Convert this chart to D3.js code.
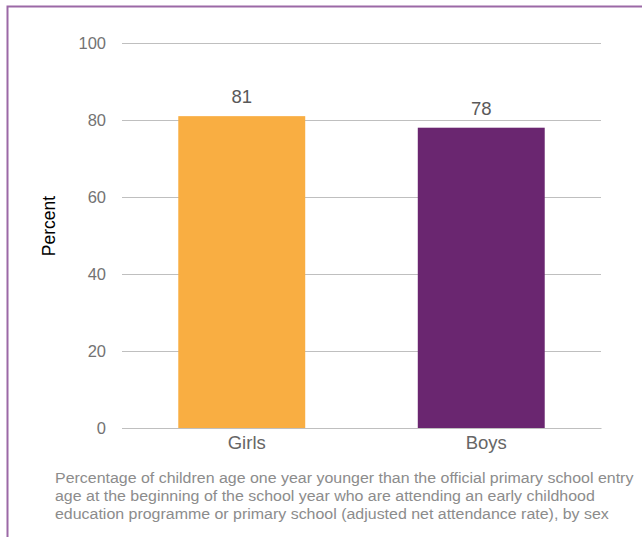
<!DOCTYPE html>
<html><head><meta charset="utf-8">
<script src="https://cdn.jsdelivr.net/npm/d3@7"></script>
<style>body{margin:0;background:#fff;}svg{display:block;font-family:Arial,"Liberation Sans",sans-serif;}</style>
</head><body>
<svg id="c" width="642" height="537"></svg>
<script>
const categories = ["Girls", "Boys"];
const values = [81, 78];
const colors = ["#F9AE42", "#6A2670"];
const yTicks = [0, 20, 40, 60, 80, 100];
const yLabel = "Percent";
const caption = [
  "Percentage of children age one year younger than the official primary school entry",
  "age at the beginning of the school year who are attending an early childhood",
  "education programme or primary school (adjusted net attendance rate), by sex"
];

const FONT = "Arial,'Liberation Sans',sans-serif";
const svg = d3.select("#c");
// frame
svg.append("path").attr("d", "M7.5,537 V6.5 H642").attr("fill", "none").attr("stroke", "#9B69A6").attr("stroke-width", 2);

const x = d3.scaleBand().domain(categories).range([122, 601]).paddingInner(0.47).paddingOuter(0.235);
const y = d3.scaleLinear().domain([0, 100]).range([428, 43]);

const ya = svg.append("g").attr("transform", "translate(122,0)")
  .call(d3.axisLeft(y).tickValues(yTicks).tickSize(-479).tickPadding(16));
ya.select(".domain").remove();
ya.selectAll(".tick line").attr("stroke", "#BFBFBF").attr("stroke-width", 1);
ya.selectAll(".tick text").attr("fill", "#737373").attr("font-size", 16.5).attr("font-family", FONT);

svg.selectAll("rect.bar").data(values).enter().append("rect")
  .attr("x", (d, i) => x(categories[i])).attr("width", x.bandwidth())
  .attr("y", d => y(d)).attr("height", d => y(0) - y(d))
  .attr("fill", (d, i) => colors[i]);

svg.selectAll("text.val").data(values).enter().append("text")
  .attr("x", (d, i) => x(categories[i]) + x.bandwidth() / 2).attr("y", d => y(d) - 13)
  .attr("text-anchor", "middle").attr("fill", "#595959").attr("font-size", 18.5).text(d => d);

const xa = svg.append("g").attr("transform", "translate(0,428)")
  .call(d3.axisBottom(x).tickSize(0).tickPadding(8));
xa.select(".domain").attr("stroke", "#BFBFBF");
xa.selectAll(".tick text").attr("fill", "#666666").attr("font-size", 18.5).attr("font-family", FONT).attr("dx", 5);

svg.append("text").attr("transform", "translate(55,226) rotate(-90)").attr("text-anchor", "middle")
  .attr("fill", "#000").attr("font-size", 17.5).text(yLabel);

svg.append("g").attr("transform", "translate(55,0) scale(1.1,1)")
  .selectAll("text").data(caption).enter().append("text")
  .attr("x", 0).attr("y", (d, i) => 483 + i * 18).attr("fill", "#8C8C8C").attr("font-size", 14.5).text(d => d);
</script>
</body></html>
